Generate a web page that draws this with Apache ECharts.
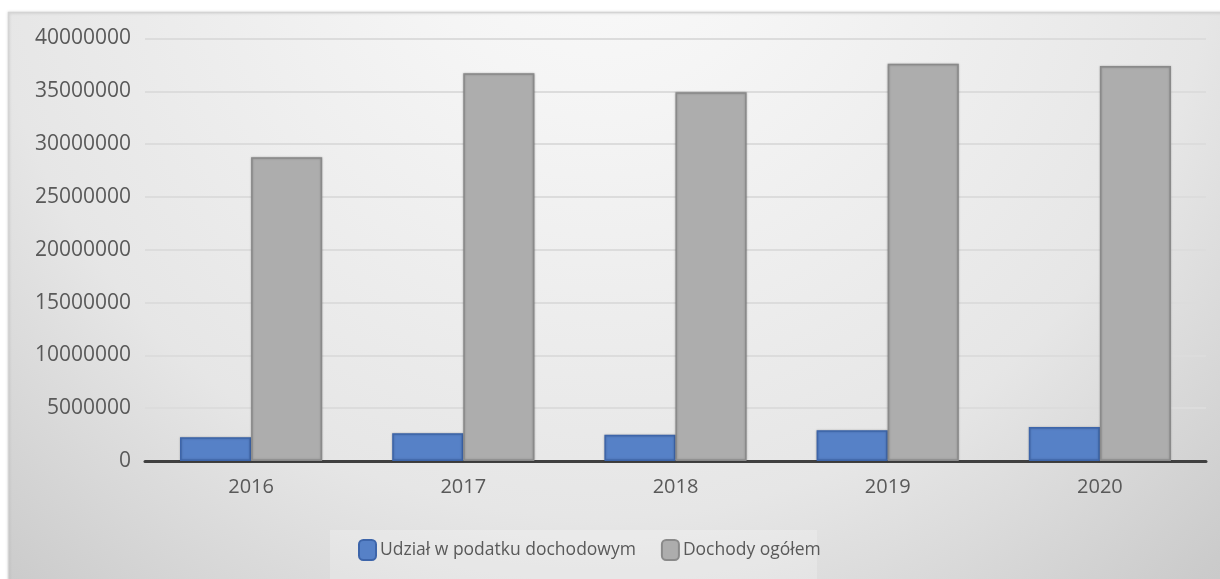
<!DOCTYPE html>
<html>
<head>
<meta charset="utf-8">
<script src="https://cdn.jsdelivr.net/npm/echarts@6/dist/echarts.min.js"></script>
<style>
  html, body { margin: 0; padding: 0; background: #fff; }
  #chart { width: 1220px; height: 579px; }
</style>
</head>
<body>
<div id="chart"></div>
<script>
const years = ['2016', '2017', '2018', '2019', '2020']
const udzial = [2250000, 2630000, 2480000, 2910000, 3230000]
const dochody = [28750000, 36700000, 34900000, 37600000, 37400000]
const seriesNames = ['Udział w podatku dochodowym', 'Dochody ogółem']

const chart = echarts.init(document.getElementById('chart'))
const font = '"Open Sans", "Noto Sans", sans-serif'

chart.setOption({
  animation: false,
  textStyle: { fontFamily: font },
  graphic: [
    {
      type: 'rect', z: -10, silent: true,
      shape: { x: 8.5, y: 12.5, width: 1215, height: 570 },
      style: {
        fill: {
          type: 'radial', x: 600, y: -100, r: 950, global: true,
          colorStops: [
            { offset: 0, color: '#fafafa' },
            { offset: 0.2, color: '#f5f5f5' },
            { offset: 0.65, color: '#e6e6e6' },
            { offset: 0.95, color: '#cbcbcb' },
            { offset: 1, color: '#c8c8c8' },
          ],
        },
        stroke: '#d4d4d4', lineWidth: 1.5,
        shadowBlur: 3, shadowColor: 'rgba(0,0,0,0.15)',
      },
    },
    {
      type: 'rect', z: -5, silent: true,
      shape: { x: 330, y: 530, width: 487, height: 52 },
      style: { fill: 'rgba(255,255,255,0.22)' },
    },
  ],
  legend: {
    left: 353, top: 534,
    itemWidth: 17, itemHeight: 20, itemGap: 25,
    icon: 'roundRect',
    textStyle: { color: '#595959', fontSize: 17.5, fontFamily: font, padding: [0, 0, 0, -1] },
    data: seriesNames,
  },
  grid: { left: 145, right: 14, top: 38.5, bottom: 118, containLabel: false },
  xAxis: {
    type: 'category', data: years,
    axisTick: { show: false },
    axisLine: { lineStyle: { color: '#404040', width: 3 } },
    axisLabel: { color: '#595959', fontSize: 20, margin: 16, fontFamily: font },
  },
  yAxis: {
    type: 'value', min: 0, max: 40000000, interval: 5000000,
    axisLine: { show: false },
    axisLabel: { color: '#595959', fontSize: 21, margin: 14, fontFamily: font, formatter: v => String(v) },
    splitLine: { lineStyle: { color: '#dcdcdc', width: 2 } },
  },
  series: [
    {
      name: seriesNames[0], type: 'bar', data: udzial,
      barGap: '0%', barCategoryGap: '33%',
      itemStyle: {
        color: '#5681c7', borderColor: '#3d65aa', borderWidth: 1.5,
        shadowBlur: 2, shadowColor: 'rgba(0,0,0,0.25)',
      },
    },
    {
      name: seriesNames[1], type: 'bar', data: dochody,
      barGap: '0%', barCategoryGap: '33%',
      itemStyle: {
        color: '#adadad', borderColor: '#8a8a8a', borderWidth: 1.5,
        shadowBlur: 2, shadowColor: 'rgba(0,0,0,0.25)',
      },
    },
  ],
})
</script>
</body>
</html>
